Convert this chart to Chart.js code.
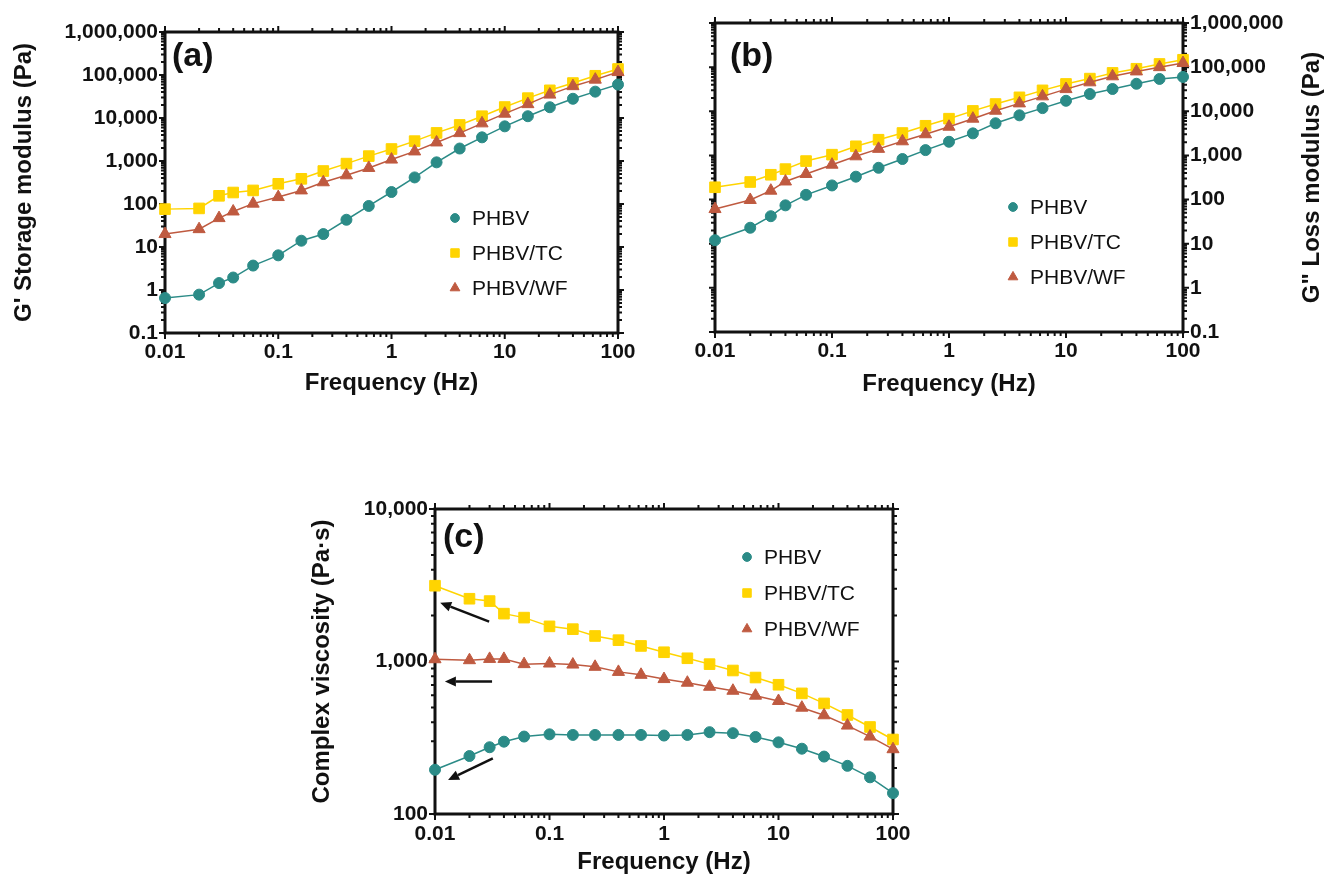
<!DOCTYPE html>
<html>
<head>
<meta charset="utf-8">
<script src="https://cdn.jsdelivr.net/npm/chart.js@4.4.1/dist/chart.umd.min.js"></script>
<style>
  html, body { margin: 0; padding: 0; background: #fff; }
  body { width: 1325px; height: 877px; position: relative; overflow: hidden; }
  canvas { position: absolute; }
</style>
</head>
<body>
<canvas id="chart-a" width="640" height="410" style="left:0;top:0"></canvas>
<canvas id="chart-b" width="645" height="410" style="left:680px;top:0"></canvas>
<canvas id="chart-c" width="640" height="387" style="left:280px;top:490px"></canvas>
<script>
// frequency sweep, Hz
const frequency = [0.01, 0.02, 0.03, 0.04, 0.06, 0.1, 0.16, 0.25, 0.4, 0.63, 1, 1.6, 2.5, 4, 6.3, 10, 16, 25, 40, 63, 100];

// (a) G' storage modulus, Pa
const storagePHBV = [0.65, 0.78, 1.45, 1.95, 3.7, 6.4, 14, 20, 43, 90, 190, 415, 930, 1950, 3550, 6400, 11000, 17800, 28000, 41000, 60000];
const storageTC = [76, 79, 155, 185, 207, 295, 385, 585, 870, 1300, 1900, 2900, 4500, 6900, 11000, 18000, 29000, 44000, 65000, 96000, 138000];
const storageWF = [20, 26, 47, 67, 102, 145, 207, 320, 465, 690, 1080, 1670, 2700, 4450, 7500, 12600, 21000, 35000, 55000, 78000, 117000];

// (b) G'' loss modulus, Pa
const lossPHBV = [12, 23, 42, 74, 128, 209, 330, 525, 830, 1320, 2040, 3160, 5350, 8100, 11800, 17300, 24600, 32000, 42000, 54000, 60000];
const lossTC = [190, 250, 365, 490, 745, 1040, 1610, 2270, 3220, 4700, 6800, 10200, 14600, 20700, 29800, 41600, 55000, 74000, 92000, 118000, 147000];
const lossWF = [61, 98, 159, 257, 380, 617, 955, 1410, 2090, 3020, 4470, 6800, 10300, 15100, 21800, 31800, 45300, 62000, 80000, 100000, 124000];

// (c) complex viscosity, Pa·s
const viscPHBV = [195, 240, 274, 298, 322, 333, 330, 330, 330, 330, 327, 330, 344, 339, 320, 295, 268, 238, 207, 174, 137];
const viscTC = [3140, 2580, 2490, 2060, 1940, 1700, 1630, 1470, 1380, 1265, 1150, 1050, 961, 873, 785, 704, 618, 531, 446, 372, 308];
const viscWF = [1035, 1020, 1040, 1040, 961, 970, 955, 923, 855, 818, 767, 726, 683, 643, 597, 551, 498, 444, 380, 322, 266];

// tick labels
const freqTicks = [0.01, 0.1, 1, 10, 100];
const freqTickLabels = ['0.01', '0.1', '1', '10', '100'];
const modulusTicks = [0.1, 1, 10, 100, 1000, 10000, 100000, 1000000];
const modulusTickLabels = ['0.1', '1', '10', '100', '1,000', '10,000', '100,000', '1,000,000'];
const viscTicks = [100, 1000, 10000];
const viscTickLabels = ['100', '1,000', '10,000'];

// arrows in (c), [freq, viscosity] of tail and head
const viscArrows = [
    { from: [0.0297, 1825], to: [0.0111, 2430] },
    { from: [0.0315, 740], to: [0.0122, 740] },
    { from: [0.032, 232], to: [0.013, 167] }
];

const FONT = '"Liberation Sans", Arial, Helvetica, sans-serif';
const TEAL = '#2b8b87';
const YELLOW = '#ffd400';
const BROWN = '#bf5a40';
const INK = '#111';

function isMajor(v) {
    const l = Math.log10(v);
    return Math.abs(l - Math.round(l)) < 1e-6;
}

// 1..9 x 10^n ticks between min and max
function logTicks(min, max) {
    const out = [];
    for (let e = Math.floor(Math.log10(min)); e <= Math.ceil(Math.log10(max)); e++) {
        for (let k = 1; k < 10; k++) {
            const v = parseFloat((k * Math.pow(10, e)).toPrecision(6));
            if (v >= min * 0.999 && v <= max * 1.001) out.push(v);
        }
    }
    return out;
}

function labelFor(v, majors, labels) {
    const i = majors.findIndex(m => Math.abs(m - v) / m < 1e-6);
    return i >= 0 ? labels[i] : '';
}

// fixed box size so the plot area lands where the figure has it
function fixSize(w, h) {
    return s => {
        if (w != null) s.width = w;
        if (h != null) s.height = h;
        s.paddingLeft = 0;
        s.paddingRight = 0;
        s.paddingTop = 0;
        s.paddingBottom = 0;
    };
}

function logAxis(min, max, majors, labels, pad, extra) {
    return Object.assign({
        type: 'logarithmic',
        min: min,
        max: max,
        grid: { display: false, drawTicks: false },
        border: { display: false },
        afterBuildTicks: s => { s.ticks = logTicks(min, max).map(v => ({ value: v })); },
        ticks: {
            autoSkip: false,
            maxRotation: 0,
            minRotation: 0,
            padding: pad,
            color: INK,
            font: { family: FONT, size: 21, weight: 'bold' },
            callback: v => labelFor(v, majors, labels)
        }
    }, extra);
}

function axisTitle(text, padding) {
    return {
        display: true,
        text: text,
        color: INK,
        font: { family: FONT, size: 24, weight: 'bold' },
        padding: padding
    };
}

function series(label, values, color, style, radius, order) {
    return {
        label: label,
        data: frequency.map((f, i) => ({ x: f, y: values[i] })),
        showLine: true,
        borderColor: color,
        backgroundColor: color,
        borderWidth: 1.5,
        pointStyle: style,
        pointRadius: radius,
        pointBorderWidth: 1,
        pointBackgroundColor: color,
        pointBorderColor: color,
        clip: false,
        order: order
    };
}

function drawMarker(ctx, style, radius, x, y) {
    if (Chart.helpers && Chart.helpers.drawPoint) {
        Chart.helpers.drawPoint(ctx, { pointStyle: style, radius: radius, borderWidth: 1, rotation: 0 }, x, y);
        return;
    }
    ctx.beginPath();
    ctx.arc(x, y, radius, 0, Math.PI * 2);
    ctx.fill();
}

// frame, ticks on all four sides, panel letter, legend, arrows
const panelPlugin = {
    id: 'panel',
    beforeDatasetsDraw(chart) {
        const { ctx, chartArea: a, scales: { x, y } } = chart;
        ctx.save();
        ctx.strokeStyle = INK;
        ctx.lineWidth = 2;
        ctx.beginPath();
        x.ticks.forEach(t => {
            const px = x.getPixelForValue(t.value);
            const len = isMajor(t.value) ? 6 : 4;
            ctx.moveTo(px, a.bottom); ctx.lineTo(px, a.bottom + len);
            ctx.moveTo(px, a.top); ctx.lineTo(px, a.top - len);
        });
        y.ticks.forEach(t => {
            const py = y.getPixelForValue(t.value);
            const len = isMajor(t.value) ? 6 : 4;
            ctx.moveTo(a.left, py); ctx.lineTo(a.left - len, py);
            ctx.moveTo(a.right, py); ctx.lineTo(a.right + len, py);
        });
        ctx.stroke();
        ctx.lineWidth = 3;
        ctx.strokeRect(a.left, a.top, a.right - a.left, a.bottom - a.top);
        ctx.restore();
    },
    afterDatasetsDraw(chart, args, opts) {
        if (!opts.arrows) return;
        const { ctx, scales: { x, y } } = chart;
        ctx.save();
        ctx.strokeStyle = INK;
        ctx.fillStyle = INK;
        ctx.lineWidth = 2.5;
        opts.arrows.forEach(ar => {
            const x0 = x.getPixelForValue(ar.from[0]), y0 = y.getPixelForValue(ar.from[1]);
            const x1 = x.getPixelForValue(ar.to[0]), y1 = y.getPixelForValue(ar.to[1]);
            const ang = Math.atan2(y1 - y0, x1 - x0);
            const head = 11, half = 5;
            const bx = x1 - head * Math.cos(ang), by = y1 - head * Math.sin(ang);
            ctx.beginPath();
            ctx.moveTo(x0, y0);
            ctx.lineTo(bx, by);
            ctx.stroke();
            ctx.beginPath();
            ctx.moveTo(x1, y1);
            ctx.lineTo(bx + half * Math.sin(ang), by - half * Math.cos(ang));
            ctx.lineTo(bx - half * Math.sin(ang), by + half * Math.cos(ang));
            ctx.closePath();
            ctx.fill();
        });
        ctx.restore();
    },
    afterDraw(chart, args, opts) {
        const { ctx, chartArea: a } = chart;
        ctx.save();
        // panel letter
        ctx.fillStyle = INK;
        ctx.font = 'bold 34px ' + FONT;
        ctx.textBaseline = 'middle';
        ctx.textAlign = 'left';
        ctx.fillText(opts.letter, a.left + opts.letterAt[0], a.top + opts.letterAt[1]);

        // legend
        const lg = opts.legend;
        ctx.font = '21px ' + FONT;
        chart.data.datasets.forEach((ds, i) => {
            const ly = a.top + lg.y[i];
            ctx.fillStyle = ds.pointBackgroundColor;
            ctx.strokeStyle = ds.pointBorderColor;
            drawMarker(ctx, ds.pointStyle, ds.pointRadius * 0.8, a.left + lg.x, ly);
            ctx.fillStyle = INK;
            ctx.fillText(ds.label, a.left + lg.x + 17, ly + 1);
        });

        // right-hand axis title, reading bottom to top
        if (opts.rightTitle) {
            ctx.translate(opts.rightTitle.x, (a.top + a.bottom) / 2);
            ctx.rotate(-Math.PI / 2);
            ctx.font = 'bold 24px ' + FONT;
            ctx.textAlign = 'center';
            ctx.fillText(opts.rightTitle.text, 0, 0);
        }
        ctx.restore();
    }
};

function baseOptions(padding, scales, panel) {
    return {
        responsive: false,
        animation: false,
        events: [],
        layout: { padding: padding },
        scales: scales,
        plugins: {
            legend: { display: false },
            tooltip: { enabled: false },
            panel: panel
        }
    };
}

// (a) storage modulus
new Chart(document.getElementById('chart-a'), {
    type: 'scatter',
    data: {
        datasets: [
            series('PHBV', storagePHBV, TEAL, 'circle', 5.5, 2),
            series('PHBV/TC', storageTC, YELLOW, 'rect', 7.5, 1),
            series('PHBV/WF', storageWF, BROWN, 'triangle', 7, 0)
        ]
    },
    options: baseOptions(
        { top: 32, right: 22, left: 0, bottom: 0 },
        {
            x: logAxis(0.01, 100, freqTicks, freqTickLabels, 7, {
                position: 'bottom',
                afterFit: fixSize(null, 77),
                title: axisTitle('Frequency (Hz)', { top: 0, bottom: 12 })
            }),
            y: logAxis(0.1, 1e6, modulusTicks, modulusTickLabels, 7, {
                position: 'left',
                afterFit: fixSize(165, null),
                title: axisTitle("G' Storage modulus (Pa)", { top: 10, bottom: 0 })
            })
        },
        { letter: '(a)', letterAt: [7, 25], legend: { x: 290, y: [186, 221, 256] } }
    ),
    plugins: [panelPlugin]
});

// (b) loss modulus
new Chart(document.getElementById('chart-b'), {
    type: 'scatter',
    data: {
        datasets: [
            series('PHBV', lossPHBV, TEAL, 'circle', 5.5, 2),
            series('PHBV/TC', lossTC, YELLOW, 'rect', 7.5, 1),
            series('PHBV/WF', lossWF, BROWN, 'triangle', 7, 0)
        ]
    },
    options: baseOptions(
        { top: 23, right: 0, left: 35, bottom: 0 },
        {
            x: logAxis(0.01, 100, freqTicks, freqTickLabels, 7, {
                position: 'bottom',
                afterFit: fixSize(null, 78),
                title: axisTitle('Frequency (Hz)', { top: 0, bottom: 11 })
            }),
            y: logAxis(0.1, 1e6, modulusTicks, modulusTickLabels, 7, {
                position: 'right',
                afterFit: fixSize(142, null)
            })
        },
        {
            letter: '(b)', letterAt: [15, 34],
            legend: { x: 298, y: [184, 219, 254] },
            rightTitle: { text: 'G" Loss modulus (Pa)', x: 632 }
        }
    ),
    plugins: [panelPlugin]
});

// (c) complex viscosity
new Chart(document.getElementById('chart-c'), {
    type: 'scatter',
    data: {
        datasets: [
            series('PHBV', viscPHBV, TEAL, 'circle', 5.5, 2),
            series('PHBV/TC', viscTC, YELLOW, 'rect', 7.5, 1),
            series('PHBV/WF', viscWF, BROWN, 'triangle', 7, 0)
        ]
    },
    options: baseOptions(
        { top: 19, right: 27, left: 0, bottom: 0 },
        {
            x: logAxis(0.01, 100, freqTicks, freqTickLabels, 8, {
                position: 'bottom',
                afterFit: fixSize(null, 63),
                title: axisTitle('Frequency (Hz)', { top: 0, bottom: 0 })
            }),
            y: logAxis(100, 10000, viscTicks, viscTickLabels, 7, {
                position: 'left',
                afterFit: fixSize(155, null),
                title: axisTitle('Complex viscosity (Pa·s)', { top: 28, bottom: 0 })
            })
        },
        {
            letter: '(c)', letterAt: [8, 29],
            legend: { x: 312, y: [48, 84, 120] },
            arrows: viscArrows
        }
    ),
    plugins: [panelPlugin]
});
</script>
</body>
</html>
